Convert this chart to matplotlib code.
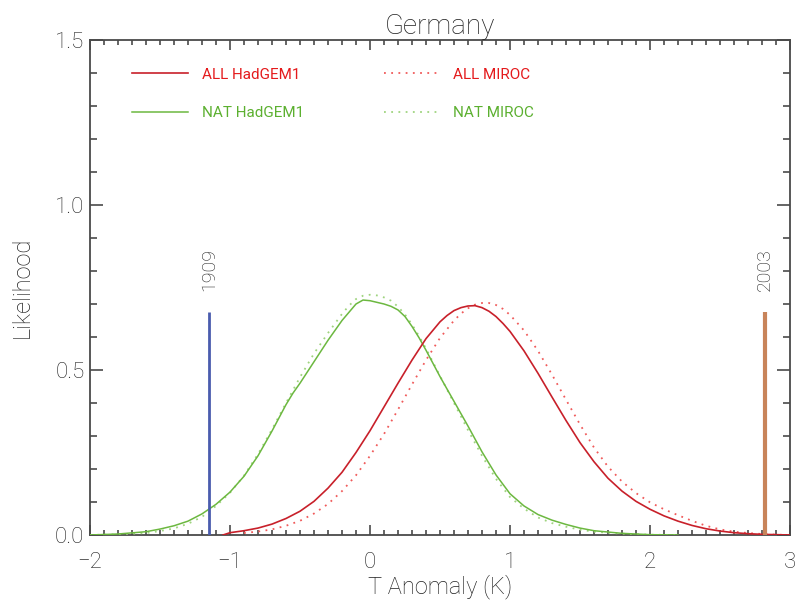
import numpy as np
import matplotlib
matplotlib.use("Agg")
import matplotlib.pyplot as plt
from matplotlib.ticker import MultipleLocator

# kurve procitane sa slike (T anomalija u K, likelihood)
nat_had_x = [-2.0, -1.8, -1.6, -1.5, -1.4, -1.3, -1.2, -1.1, -1.0, -0.9, -0.8, -0.7, -0.6, -0.55,
             -0.5, -0.4, -0.3, -0.2, -0.1, -0.05, 0.0, 0.05, 0.1, 0.15, 0.2, 0.25, 0.3, 0.35,
             0.4, 0.45, 0.5, 0.6, 0.7, 0.8, 0.9, 1.0, 1.1, 1.2, 1.3, 1.4, 1.5, 1.6, 1.8, 2.0, 2.2]
nat_had_y = [0.0, 0.003, 0.01, 0.018, 0.028, 0.042, 0.064, 0.093, 0.13, 0.178, 0.24, 0.315, 0.395, 0.43,
             0.46, 0.525, 0.59, 0.65, 0.70, 0.712, 0.71, 0.705, 0.70, 0.693, 0.682, 0.662, 0.632, 0.598,
             0.56, 0.52, 0.48, 0.405, 0.33, 0.252, 0.182, 0.125, 0.088, 0.062, 0.045, 0.032, 0.021, 0.013,
             0.005, 0.001, 0.0]

nat_miroc_x = [-2.0, -1.8, -1.6, -1.5, -1.4, -1.3, -1.2, -1.1, -1.0, -0.9, -0.8, -0.7, -0.6, -0.5,
               -0.4, -0.3, -0.2, -0.15, -0.1, -0.05, 0.0, 0.05, 0.1, 0.15, 0.2, 0.25, 0.3, 0.35,
               0.4, 0.5, 0.6, 0.7, 0.8, 0.9, 1.0, 1.1, 1.2, 1.3, 1.4, 1.5, 1.6, 1.8, 2.0, 2.2]
nat_miroc_y = [0.0, 0.002, 0.006, 0.012, 0.02, 0.034, 0.055, 0.088, 0.128, 0.18, 0.245, 0.32, 0.40, 0.478,
               0.55, 0.612, 0.67, 0.695, 0.715, 0.725, 0.728, 0.726, 0.72, 0.71, 0.692, 0.668, 0.638, 0.603,
               0.565, 0.482, 0.40, 0.318, 0.24, 0.17, 0.115, 0.08, 0.053, 0.036, 0.025, 0.016, 0.01,
               0.004, 0.001, 0.0]

all_had_x = [-1.05, -1.0, -0.9, -0.8, -0.7, -0.6, -0.5, -0.4, -0.3, -0.2, -0.1, 0.0, 0.1, 0.2,
             0.3, 0.4, 0.5, 0.55, 0.6, 0.65, 0.7, 0.75, 0.8, 0.85, 0.9, 0.95, 1.0, 1.1, 1.2, 1.3,
             1.4, 1.5, 1.6, 1.7, 1.8, 1.9, 2.0, 2.1, 2.2, 2.3, 2.4, 2.5, 2.6, 2.7, 2.8, 2.9, 3.0]
all_had_y = [0.0, 0.007, 0.013, 0.021, 0.033, 0.05, 0.072, 0.102, 0.142, 0.19, 0.25, 0.316, 0.388, 0.46,
             0.53, 0.595, 0.646, 0.665, 0.68, 0.689, 0.694, 0.695, 0.689, 0.678, 0.662, 0.641, 0.617,
             0.558, 0.49, 0.418, 0.347, 0.28, 0.222, 0.172, 0.133, 0.102, 0.078, 0.058, 0.042, 0.029,
             0.019, 0.012, 0.007, 0.004, 0.002, 0.001, 0.0]

all_miroc_x = [-0.9, -0.8, -0.7, -0.6, -0.5, -0.4, -0.3, -0.2, -0.1, 0.0, 0.1, 0.2, 0.3, 0.4,
               0.5, 0.6, 0.65, 0.7, 0.75, 0.8, 0.85, 0.9, 0.95, 1.0, 1.1, 1.2, 1.3, 1.4, 1.5, 1.6,
               1.7, 1.8, 1.9, 2.0, 2.1, 2.2, 2.3, 2.4, 2.5, 2.6, 2.7, 2.8, 2.9, 3.0]
all_miroc_y = [0.006, 0.0105, 0.017, 0.028, 0.043, 0.065, 0.094, 0.133, 0.181, 0.24, 0.306, 0.38, 0.456, 0.53,
               0.597, 0.65, 0.671, 0.687, 0.698, 0.703, 0.703, 0.697, 0.685, 0.667, 0.62, 0.558, 0.486, 0.41,
               0.335, 0.265, 0.207, 0.162, 0.127, 0.099, 0.078, 0.06, 0.043, 0.028, 0.017, 0.01, 0.006,
               0.003, 0.001, 0.0]

# godine oznacene vertikalnim linijama
years = ["1909", "2003"]
year_x = [-1.15, 2.82]
year_h = [0.675, 0.675]

FONT = "Roboto"
TXT = "#202020"
AX = "#4a4a4a"

plt.rcParams['font.family'] = [FONT, 'DejaVu Sans']
plt.rcParams['font.weight'] = 'light'
plt.rcParams['axes.titleweight'] = 'light'
plt.rcParams['axes.labelweight'] = 'light'

fig = plt.figure(figsize=(7.95, 6.03), dpi=100)
ax = fig.add_axes([90/795, 1 - 535/603, 700/795, 495/603])

ax.plot(nat_had_x, nat_had_y, color="#6cb840", lw=1.1, label="NAT HadGEM1", zorder=4)
ax.plot(nat_miroc_x, nat_miroc_y, color="#9fd47f", lw=1.3, ls=(0, (1, 3)), label="NAT MIROC", zorder=3)
ax.plot(all_had_x, all_had_y, color="#c8202a", lw=1.2, label="ALL HadGEM1", zorder=4)
ax.plot(all_miroc_x, all_miroc_y, color="#f05a5a", lw=1.3, ls=(0, (1, 3)), label="ALL MIROC", zorder=3)

# vertikalne linije za godine
ax.vlines(year_x[0], 0, year_h[0], color="#4a5cae", lw=2, zorder=5)
ax.vlines(year_x[1], 0, year_h[1], color="#c8845a", lw=3, zorder=5)
for i in range(len(years)):
    ax.text(year_x[i], 0.805, years[i], rotation=90, ha="center", va="center",
            fontsize=14, color=TXT)

ax.set_xlim(-2, 3)
ax.set_ylim(0, 1.5)
ax.xaxis.set_minor_locator(MultipleLocator(0.1))
ax.yaxis.set_minor_locator(MultipleLocator(0.1))
ax.set_xticks([-2, -1, 0, 1, 2, 3])
ax.set_xticklabels(["\u22122", "\u22121", "0", "1", "2", "3"])
ax.set_yticks([0, 0.5, 1.0, 1.5])
ax.set_yticklabels(["0.0", "0.5", "1.0", "1.5"])

ax.tick_params(which="both", direction="in", top=True, right=True, color=AX,
               labelcolor=TXT, labelsize=16, width=1.2)
ax.tick_params(axis="x", which="major", length=7, pad=12)
ax.tick_params(axis="x", which="minor", length=3.5)
ax.tick_params(axis="y", which="major", length=9.5, pad=4)
ax.tick_params(axis="y", which="minor", length=5)
for sp in ax.spines.values():
    sp.set_color(AX)
    sp.set_linewidth(1.3)

ax.set_xlabel("T Anomaly (K)", fontsize=17, color=TXT, labelpad=1)
ax.set_ylabel("Likelihood", fontsize=17, color=TXT, labelpad=15)
ax.set_title("Germany", fontsize=20, color=TXT, pad=0)

# legenda
h, l = ax.get_legend_handles_labels()
order = [2, 0, 3, 1]
leg = ax.legend([h[i] for i in order], [l[i] for i in order], ncol=2, frameon=False,
                loc="upper left", bbox_to_anchor=(0.041, 0.972), fontsize=11,
                handlelength=3.65, handletextpad=0.9, columnspacing=5.2, labelspacing=1.6)
leg_colors = ["#e41a1c", "#5cb030", "#e41a1c", "#5cb030"]
for t, c in zip(leg.get_texts(), leg_colors):
    t.set_color(c)
    t.set_fontweight("normal")

fig.savefig("out.png", dpi=100)
